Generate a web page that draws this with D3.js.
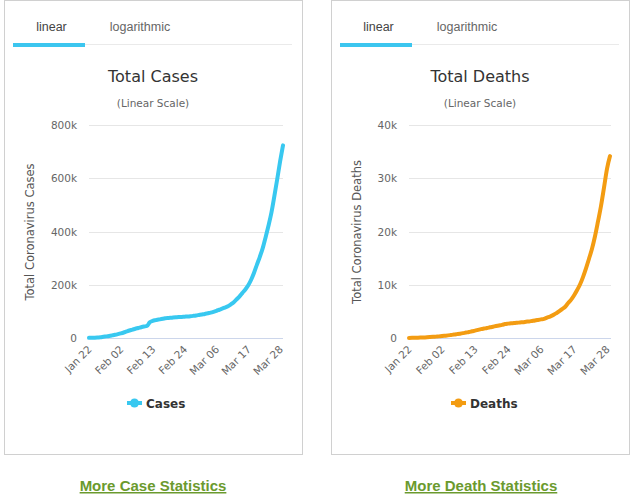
<!DOCTYPE html>
<html><head><meta charset="utf-8">
<script src="https://cdn.jsdelivr.net/npm/d3@7/dist/d3.min.js"></script>
<style>
html,body{margin:0;padding:0;background:#fff;}
svg{display:block;}
</style></head>
<body>
<svg id="chart" width="640" height="501"></svg>
<script>
const dates = ["Jan 22","Jan 23","Jan 24","Jan 25","Jan 26","Jan 27","Jan 28","Jan 29","Jan 30","Jan 31",
"Feb 01","Feb 02","Feb 03","Feb 04","Feb 05","Feb 06","Feb 07","Feb 08","Feb 09","Feb 10",
"Feb 11","Feb 12","Feb 13","Feb 14","Feb 15","Feb 16","Feb 17","Feb 18","Feb 19","Feb 20",
"Feb 21","Feb 22","Feb 23","Feb 24","Feb 25","Feb 26","Feb 27","Feb 28","Feb 29","Mar 01",
"Mar 02","Mar 03","Mar 04","Mar 05","Mar 06","Mar 07","Mar 08","Mar 09","Mar 10","Mar 11",
"Mar 12","Mar 13","Mar 14","Mar 15","Mar 16","Mar 17","Mar 18","Mar 19","Mar 20","Mar 21",
"Mar 22","Mar 23","Mar 24","Mar 25","Mar 26","Mar 27","Mar 28","Mar 29"];

const cases = [580,845,1317,2015,2800,4581,6058,7813,9823,11950,
14553,17391,20630,24545,28266,31439,34876,37552,40553,43099,
45134,59287,64438,67100,69197,71329,73332,75184,75700,76677,
77673,78651,79205,80087,80828,81820,83112,84615,86604,88585,
90443,93016,95314,98425,102050,106099,109991,114381,118948,126214,
134576,145483,156653,169511,182424,198159,218744,244902,275550,304979,
337469,378830,422574,471035,531865,596366,663127,723390];

const deaths = [17,25,41,56,80,106,132,170,213,259,
304,362,426,492,565,638,724,813,910,1018,
1115,1261,1383,1526,1669,1775,1873,2009,2126,2247,
2360,2460,2618,2699,2763,2800,2858,2923,2977,3050,
3117,3202,3285,3387,3494,3599,3827,4025,4296,4628,
4981,5428,5833,6520,7162,7979,8958,10040,11433,13069,
14883,16759,19110,21890,24788,28244,31776,34160];

const xTickLabels = ["Jan 22","Feb 02","Feb 13","Feb 24","Mar 06","Mar 17","Mar 28"];
const casesTicks = [0,200000,400000,600000,800000];
const deathsTicks = [0,10000,20000,30000,40000];
const tabLabels = ["linear","logarithmic"];

const svg = d3.select("#chart");
const fmtK = v => v === 0 ? "0" : (v/1000) + "k";

function panel(o){
  const g = svg.append("g").attr("transform", `translate(${o.dx},0)`);
  // box
  g.append("rect").attr("x",4.5).attr("y",0.5).attr("width",298).attr("height",454)
    .attr("fill","#fff").attr("stroke","#d0d0d0").attr("stroke-width",1);
  // tabs
  g.append("line").attr("x1",13).attr("x2",292).attr("y1",44.5).attr("y2",44.5)
    .attr("stroke","#eaeaea").attr("stroke-width",1);
  g.append("rect").attr("x",13).attr("y",43).attr("width",72).attr("height",4).attr("fill","#3cc6ef");
  g.append("text").attr("x",51.5).attr("y",31).attr("text-anchor","middle")
    .attr("font-family","Liberation Sans, Arial, sans-serif").attr("font-size",12.5).attr("fill","#444").text(tabLabels[0]);
  g.append("text").attr("x",140).attr("y",31).attr("text-anchor","middle")
    .attr("font-family","Liberation Sans, Arial, sans-serif").attr("font-size",12.5).attr("fill","#666").text(tabLabels[1]);
  // titles
  g.append("text").attr("x",153).attr("y",82).attr("text-anchor","middle")
    .attr("font-family","DejaVu Sans, sans-serif").attr("font-size",16).attr("fill","#333").text(o.title);
  g.append("text").attr("x",153).attr("y",107).attr("text-anchor","middle")
    .attr("font-family","DejaVu Sans, sans-serif").attr("font-size",10.5).attr("fill","#666").text("(Linear Scale)");

  const x = d3.scalePoint().domain(dates).range([o.x0, o.x1]);
  const y = d3.scaleLinear().domain([0, o.ticks[o.ticks.length-1]]).range([338,125]);

  // gridlines
  g.append("g").selectAll("line").data(o.ticks).join("line")
    .attr("x1",o.x0).attr("x2",o.gx1).attr("y1",d=>Math.round(y(d))+0.5).attr("y2",d=>Math.round(y(d))+0.5)
    .attr("stroke",(d)=>d===0?"#ccd6eb":"#e6e6e6").attr("stroke-width",1);

  // y axis labels
  const ya = g.append("g").attr("transform",`translate(${o.x0},0)`)
    .call(d3.axisLeft(y).tickValues(o.ticks).tickFormat(fmtK).tickSize(0).tickPadding(12));
  ya.select(".domain").remove();
  ya.selectAll("text").attr("font-family","DejaVu Sans, sans-serif").attr("font-size",10.5).attr("fill","#666").attr("dy","0.35em");

  // x axis labels
  const xa = g.append("g").attr("transform","translate(0,338)")
    .call(d3.axisBottom(x).tickValues(xTickLabels).tickSize(0).tickPadding(0));
  xa.select(".domain").remove();
  xa.selectAll("text").attr("font-family","DejaVu Sans, sans-serif").attr("font-size",10.5).attr("fill","#666")
    .attr("text-anchor","end").attr("dy",null).attr("y",0)
    .attr("transform","translate(3,12) rotate(-45)");

  // y title
  g.append("text").attr("transform",`translate(${o.tx},232) rotate(-90)`).attr("text-anchor","middle")
    .attr("font-family","DejaVu Sans, sans-serif").attr("font-size",11.5).attr("fill","#555").text(o.ytitle);

  // line
  const line = d3.line().x((d,i)=>x(dates[i])).y(d=>y(d)).curve(d3.curveMonotoneX);
  g.append("path").datum(o.values).attr("d",line).attr("fill","none")
    .attr("stroke",o.color).attr("stroke-width",4).attr("stroke-linejoin","round").attr("stroke-linecap","round");

  // legend
  const lg = g.append("g").attr("transform",`translate(${o.lx},403)`);
  lg.append("line").attr("x1",0).attr("x2",15).attr("y1",0).attr("y2",0).attr("stroke",o.color).attr("stroke-width",4);
  lg.append("circle").attr("cx",7.5).attr("cy",0).attr("r",4.5).attr("fill",o.color);
  lg.append("text").attr("x",19).attr("y",4.5).attr("font-family","DejaVu Sans, sans-serif")
    .attr("font-size",12).attr("font-weight","bold").attr("fill","#333").text(o.name);

  // link
  g.append("text").attr("x",o.linkX).attr("y",491).attr("text-anchor","middle")
    .attr("font-family","Liberation Sans, Arial, sans-serif").attr("font-size",15).attr("font-weight","bold")
    .attr("fill","#6b9a2e").attr("text-decoration","underline").text(o.link);
}

panel({dx:0, title:"Total Cases", ytitle:"Total Coronavirus Cases", values:cases, ticks:casesTicks,
  color:"#38c8f0", name:"Cases", x0:89, x1:283, gx1:283, tx:34, lx:127, link:"More Case Statistics", linkX:153});
panel({dx:327, title:"Total Deaths", ytitle:"Total Coronavirus Deaths", values:deaths, ticks:deathsTicks,
  color:"#f39c12", name:"Deaths", x0:82, x1:283, gx1:284, tx:34, lx:124, link:"More Death Statistics", linkX:154});
</script>
</body></html>
